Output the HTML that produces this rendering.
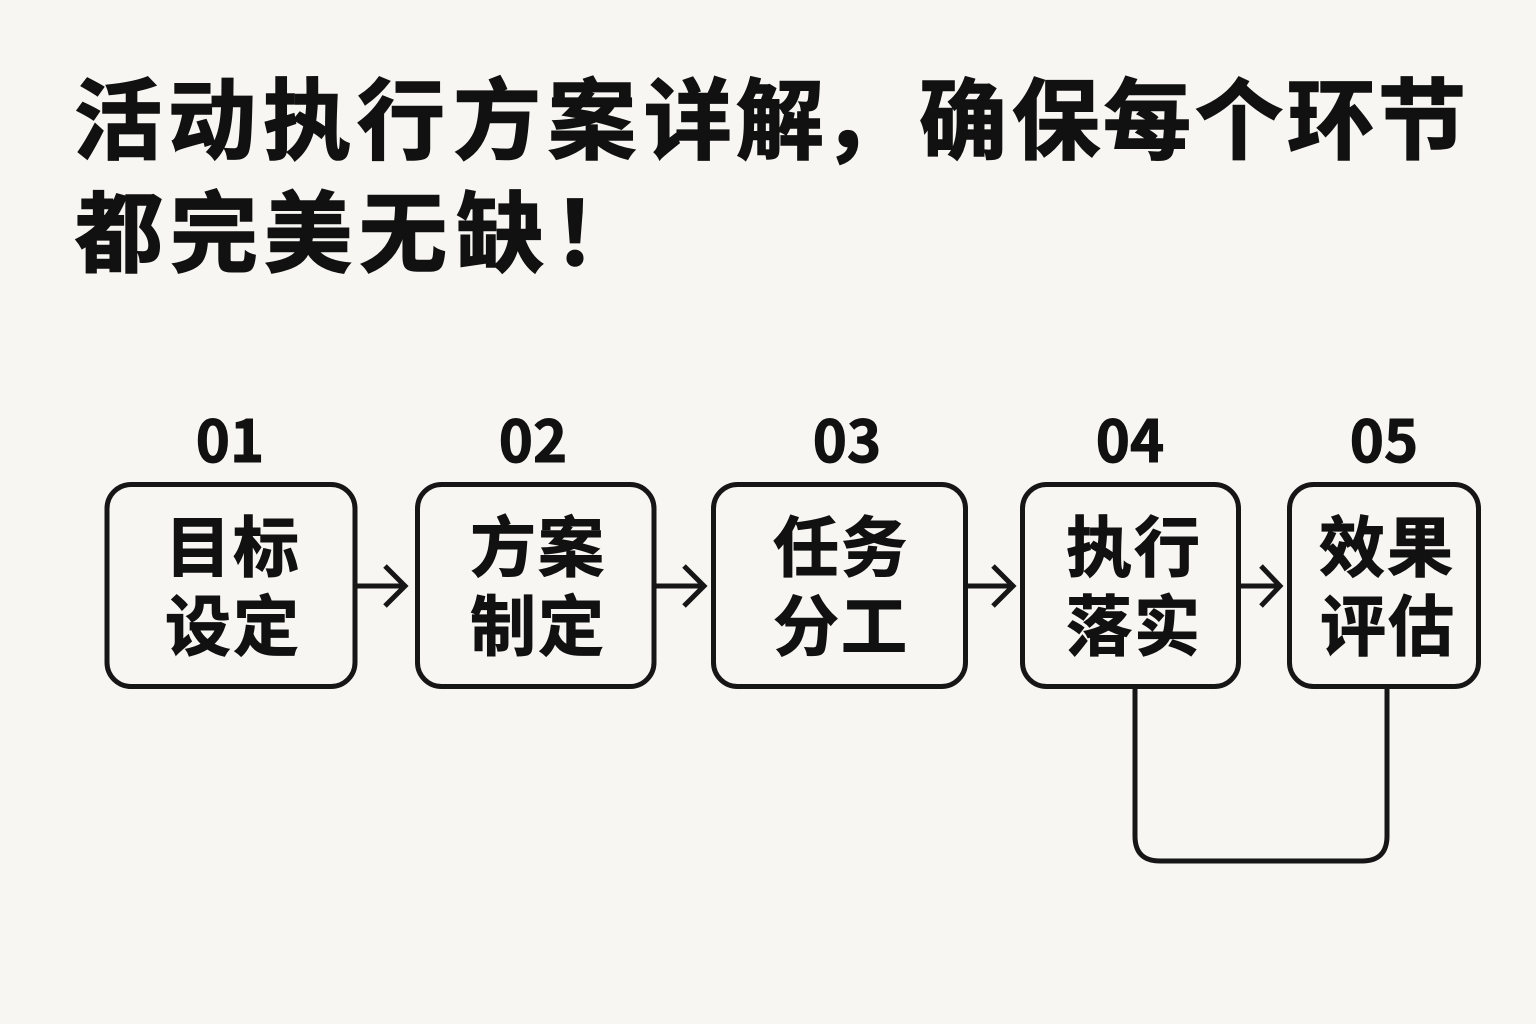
<!DOCTYPE html>
<html lang="zh">
<head>
<meta charset="utf-8">
<style>
html,body{margin:0;padding:0;background:#f7f6f2;}
svg{display:block;}
text{font-family:"Liberation Sans","Noto Sans CJK SC",sans-serif;font-weight:700;fill:#111;stroke:#111;}
.n{font-family:"Noto Sans CJK SC",sans-serif;}
</style>
</head>
<body>
<svg width="1536" height="1024" viewBox="0 0 1536 1024" xmlns="http://www.w3.org/2000/svg">
<rect width="1536" height="1024" fill="#f7f6f2"/>
<g stroke-width="1.6">
<text font-size="88" y="152" x="74 168 263 357 453 548 644 736 823 919 1012 1103 1195 1287 1378">活动执行方案详解，确保每个环节</text>
<text font-size="88" y="265" x="75 170 264 359 456 553">都完美无缺！</text>
</g>

<g font-size="58" text-anchor="middle" stroke-width="1">
<text class="n" x="230" y="462">01</text>
<text class="n" x="533" y="462">02</text>
<text class="n" x="847" y="462">03</text>
<text class="n" x="1130" y="462">04</text>
<text class="n" x="1384" y="462">05</text>
</g>

<g fill="none" stroke="#161616" stroke-width="5">
<rect x="107" y="484.5" width="248" height="202" rx="24"/>
<rect x="417.5" y="484.5" width="236.5" height="202" rx="24"/>
<rect x="713.5" y="484.5" width="252" height="202" rx="24"/>
<rect x="1022.5" y="484.5" width="216" height="202" rx="24"/>
<rect x="1289.5" y="484.5" width="189" height="202" rx="24"/>
<path d="M356 586H405M385 566L405 586L385 606"/>
<path d="M655 586H704M684 566L704 586L684 606"/>
<path d="M967 586H1013M993 566L1013 586L993 606"/>
<path d="M1240 586H1279M1261 566L1280 586L1261 606"/>
<path d="M1135 688V836Q1135 861 1160 861H1362Q1387 861 1387 836V688"/>
</g>

<g font-size="66" text-anchor="middle" letter-spacing="2" stroke-width="1">
<text x="233" y="571">目标</text>
<text x="233" y="650">设定</text>
<text x="538" y="571">方案</text>
<text x="538" y="650">制定</text>
<text x="841" y="571">任务</text>
<text x="841" y="650">分工</text>
<text x="1134" y="571">执行</text>
<text x="1134" y="650">落实</text>
<text x="1387" y="571">效果</text>
<text x="1388" y="650">评估</text>
</g>
</svg>
</body>
</html>
